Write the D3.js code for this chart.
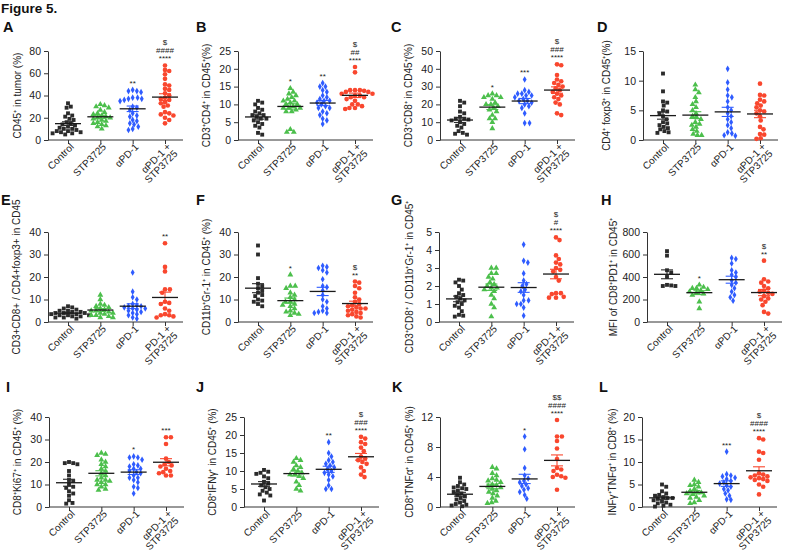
<!DOCTYPE html>
<html>
<head>
<meta charset="utf-8">
<script src="https://cdn.jsdelivr.net/npm/d3@7"></script>
<style>
    body { margin: 0; background: #fff; }
    text { font-family: 'Liberation Sans', Arial, sans-serif; }
</style>
</head>
<body>
<div id="chart-area"></div>
<script>
// DATA
// =================

// group names (last one is two lines)
var groupNames = ['Control', 'STP3725', 'αPD-1', 'αPD-1 +\nSTP3725'];
var groupNamesE = ['Control', 'STP3725', 'αPD-1', 'PD-1 +\nSTP3725'];

// each panel: [control, STP3725, aPD-1, aPD-1 + STP3725]
var panelA = [
    [33, 29, 30, 24, 22, 21, 19, 18, 16, 15, 14, 13, 12, 11, 10, 10, 9, 8, 8, 7, 7, 6, 6, 5],
    [31, 32, 30, 29, 27, 25, 24, 23, 22, 21, 20, 20, 19, 18, 17, 16, 15, 14, 13, 12, 10],
    [45, 44, 44, 43, 38, 38, 37, 37, 36, 35, 30, 29, 27, 24, 22, 21, 18, 17, 14, 10, 9, 12, 15],
    [67, 63, 62, 59, 55, 50, 49, 46, 45, 42, 40, 38, 37, 36, 34, 33, 31, 30, 25, 24, 23, 22, 20, 18, 15]
];
var panelB = [
    [11, 10.5, 10, 9, 8.5, 8, 7.5, 7, 7, 6.5, 6, 6, 5.5, 5, 4.5, 4, 3.5, 2, 1.5],
    [14.5, 13, 12, 11.5, 11, 10.5, 10, 10, 9.5, 9, 9, 8.5, 8, 9, 8, 3, 2.2, 2.2, 12.5, 11, 13.5],
    [16, 15, 15, 14, 13.5, 12.5, 12, 11.5, 11, 10.5, 10, 9.5, 9, 8, 7.5, 7, 6, 5.5, 4.5, 9, 11],
    [20.5, 19, 14, 14, 13.5, 13.5, 13, 13, 12.5, 12.5, 12, 12, 11.5, 11, 10, 9.5, 9, 9, 8.7, 10, 14, 13.8]
];
var panelC = [
    [22, 21, 19, 16, 15, 13, 12, 12, 11.5, 11, 10, 9, 8, 7, 5, 4, 3.5, 3],
    [26, 25, 25, 24, 23, 21, 20, 20, 19, 18, 17, 16, 14, 12, 12, 10, 6.5, 24],
    [34, 28, 27, 26, 26, 25, 24, 23, 22, 22, 21, 20, 19, 18, 15, 9.5, 9.5, 25],
    [42.5, 42, 36.5, 34, 33, 31, 30, 29, 28, 27, 26, 25, 23, 21, 20, 15, 14, 32, 24]
];
var panelD = [
    [11.2, 8.2, 6.5, 6.3, 5.8, 5, 4.8, 4, 3.5, 3, 2.8, 2.5, 2.2, 2, 1.8, 1.5, 1.3, 1.2, 4.5],
    [9.3, 8.5, 8, 7.2, 6.5, 6, 5.5, 5, 4.5, 4, 3.8, 3.5, 3, 2.7, 2.2, 1.8, 1.5, 1, 0.8, 0.8, 2.5],
    [12, 9.7, 8.5, 7.5, 7.2, 6.5, 5.5, 5, 4.5, 4, 3.5, 3, 2.5, 2, 1.3, 1.1, 0.8, 0.7],
    [9.5, 7.6, 7.5, 6.8, 6.5, 6.2, 5.8, 5.5, 4.8, 4.5, 4, 3.3, 2.2, 1.8, 1, 0.9, 0.3, 0.2, 5]
];
var panelE = [
    [7, 6.5, 6, 5.5, 5, 5, 4.5, 4.5, 4, 4, 3.5, 3.5, 3, 3, 2.5, 2.5, 2, 2, 1.5, 4, 3],
    [12, 10, 8, 7.5, 7, 6.5, 6, 5.5, 5, 5, 4.5, 4, 4, 3.5, 3, 3, 2.5, 2, 2],
    [22, 13.5, 11, 10, 8, 7.5, 7, 7, 6.5, 6, 5.5, 5, 4.5, 4, 3.5, 3, 2, 1.5, 6],
    [35, 24.5, 22.5, 14.5, 14.5, 13, 6, 9, 8.5, 8, 5, 3.5, 3, 2.5, 2, 3]
];
var panelF = [
    [34, 30, 19.5, 17, 16, 15, 14, 13, 12, 11.5, 10, 9.5, 9, 8, 7],
    [21, 16, 16, 15, 13, 12, 11, 10, 9, 9, 8, 7.5, 7, 6, 5, 4.5, 4, 3.5, 3],
    [25, 24.5, 24, 23, 22, 19, 16, 15.5, 14, 12, 10, 9, 7, 5, 4.5, 4, 4, 6],
    [18, 17.5, 16, 15, 13, 11, 10, 9, 8, 7.5, 7, 6.5, 6, 5.5, 5, 4.5, 4, 3.5, 3, 2.5, 2, 6]
];
var panelG = [
    [2.35, 2.3, 2.2, 2.0, 1.8, 1.6, 1.5, 1.4, 1.3, 1.2, 1.1, 1.0, 0.9, 0.8, 0.6, 0.4, 0.35, 0.3],
    [3.0, 3.0, 2.7, 2.7, 2.4, 2.2, 2.1, 2.0, 1.9, 1.9, 1.8, 1.7, 1.5, 1.3, 1.0, 0.8, 0.3, 2.5],
    [4.3, 3.4, 3.3, 2.7, 2.3, 2.0, 1.8, 1.7, 1.5, 1.2, 1.2, 1.0, 1.0, 0.8, 0.35, 2.1],
    [4.7, 4.55, 3.7, 3.5, 3.3, 3.2, 2.9, 2.8, 2.5, 2.3, 1.6, 1.6, 1.55, 1.4, 1.35, 1.35, 3.0]
];
var panelH = [
    [630, 590, 460, 440, 400, 330, 325, 320, 320],
    [330, 310, 300, 300, 290, 280, 270, 260, 250, 240, 180, 120],
    [570, 560, 520, 460, 440, 420, 400, 370, 350, 330, 300, 270, 240, 220, 190],
    [545, 380, 360, 350, 320, 300, 280, 270, 260, 250, 230, 210, 200, 180, 150, 90, 75]
];
var panelI = [
    [20, 19.5, 19.5, 19, 16, 14, 12, 11.5, 10, 9, 8.5, 7, 6, 5, 3, 1.5, 1.8],
    [24, 23.5, 23, 21, 20, 19, 18, 17, 16, 15, 14, 13, 12, 11.5, 11, 10, 9, 8, 7.5, 12, 10],
    [22.5, 22, 22, 21, 19, 18.5, 18, 17, 16, 15.5, 15, 14, 13, 12, 11, 9, 8.5, 6, 17, 13],
    [31, 31, 28, 21.5, 20, 19, 18.5, 18, 17, 16, 15.5, 15, 14, 14]
];
var panelJ = [
    [10.3, 9.8, 9.5, 9.2, 8.5, 8, 7, 6.5, 6, 5.5, 5, 4.5, 4, 3.5, 3.2, 1.8],
    [13.5, 13, 12.5, 11, 10.5, 10, 9.5, 9, 9, 8.5, 8, 7, 6, 5, 4.5, 11.5],
    [18, 15, 14, 12.5, 12, 11.5, 11, 10.5, 10, 9.5, 9, 8.5, 7.5, 6, 5, 5, 13],
    [19.5, 19, 18, 17.5, 16.5, 15.5, 14, 13.5, 13, 12.5, 12, 11, 10, 9, 8.3]
];
var panelK = [
    [3.9, 3.3, 3, 2.8, 2.6, 2.4, 2.2, 2, 1.8, 1.6, 1.4, 1.2, 1, 0.8, 0.6, 0.4, 0.3, 0.2, 0.1, 2.5],
    [5.3, 5.1, 4.5, 4.2, 3.8, 3.5, 3.3, 3, 2.8, 2.6, 2.4, 2.2, 2, 1.8, 1.5, 1.2, 0.8, 0.6, 0.5, 3.6, 2.9],
    [9.4, 7.7, 5.2, 4.2, 3.8, 3.5, 3.3, 3.0, 2.8, 2.5, 2.3, 2, 1.6, 1.1],
    [11.6, 9.4, 9.4, 8.8, 7.8, 6.4, 5.2, 5, 4.8, 4.3, 4.1, 4, 3.9, 2.3]
];
var panelL = [
    [5, 4.5, 3.5, 3, 2.7, 2.5, 2.2, 2, 1.8, 1.5, 1.2, 1, 0.8, 0.5, 0.3, 0.1, 2],
    [6, 5.5, 5, 4.8, 4.5, 4, 3.6, 3.3, 3, 2.8, 2.5, 2.2, 2, 1.5, 1, 0.8, 3.2],
    [12.3, 7.3, 7, 6.5, 6.2, 5.8, 5.5, 5.2, 4.8, 4.5, 4, 3.7, 3, 2.5, 1.7, 1.6, 6.8],
    [15.3, 15, 12.3, 12, 10.5, 7.5, 7.2, 7, 6.8, 6.6, 6.4, 6.2, 6, 5.8, 5, 4.5, 2.8]
];

// y tick labels per panel
var ticksA = [0, 20, 40, 60, 80];
var ticksB = [0, 5, 10, 15, 20, 25];
var ticksC = [0, 10, 20, 30, 40, 50];
var ticksD = [0, 5, 10, 15];
var ticksE = [0, 10, 20, 30, 40];
var ticksF = [0, 10, 20, 30, 40];
var ticksG = [0, 1, 2, 3, 4, 5];
var ticksH = [0, 200, 400, 600, 800];
var ticksI = [0, 10, 20, 30, 40];
var ticksJ = [0, 5, 10, 15, 20, 25];
var ticksK = [0, 4, 8, 12];
var ticksL = [0, 5, 10, 15, 20];

// y axis titles
var yTitles = [
    'CD45⁺ in tumor (%)',
    'CD3⁺CD4⁺ in CD45⁺(%)',
    'CD3⁺CD8⁺ in CD45⁺(%)',
    'CD4⁺ foxp3⁺ in CD45⁺(%)',
    'CD3+CD8+ / CD4+foxp3+ in CD45',
    'CD11b⁺Gr-1⁺ in CD45⁺ (%)',
    'CD3⁺CD8⁺ / CD11b⁺Gr-1⁺ in CD45⁺',
    'MFI of CD8⁺PD1⁺ in CD45⁺',
    'CD8⁺Ki67⁺ in CD45⁺ (%)',
    'CD8⁺IFNγ⁺ in CD45⁺ (%)',
    'CD8⁺TNFα⁺ in CD45⁺ (%)',
    'INFγ⁺TNFα⁺ in CD8⁺ (%)'
];

// significance marks above each group (bottom line first)
var marksA = [[], [], ['**'], ['****', '####', '$']];
var marksB = [[], ['*'], ['**'], ['****', '##', '$']];
var marksC = [[], ['*'], ['***'], ['****', '###', '$']];
var marksD = [[], [], [], []];
var marksE = [[], [], [], ['**']];
var marksF = [[], ['*'], [], ['**', '$']];
var marksG = [[], [], [], ['****', '#', '$']];
var marksH = [[], ['*'], [], ['**', '$']];
var marksI = [[], [], ['*'], ['***']];
var marksJ = [[], [], ['**'], ['****', '###', '$']];
var marksK = [[], [], ['*'], ['****', '####', '$$']];
var marksL = [[], [], ['***'], ['****', '####', '$']];

// CANVAS + LAYOUT
// =================

var colors = ['#2b2b2b', '#4cbf4c', '#2f5cff', '#f9472e'];
var symbols = [d3.symbolSquare, d3.symbolTriangle, d3.symbolDiamond, d3.symbolCircle];
var symSize = [15, 15, 13, 17];

var rows = [
    { top: 51, bottom: 140, letterY: 32 },
    { top: 232, bottom: 322, letterY: 205 },
    { top: 417, bottom: 507, letterY: 392 }
];

var panels = [
    { id: 'A', row: 0, ax: 48, lx: 3, tdx: -27, data: panelA, ticks: ticksA, marks: marksA },
    { id: 'B', row: 0, ax: 238, lx: 196, tdx: -28, data: panelB, ticks: ticksB, marks: marksB },
    { id: 'C', row: 0, ax: 440, lx: 391, tdx: -28, data: panelC, ticks: ticksC, marks: marksC },
    { id: 'D', row: 0, ax: 643, lx: 597, tdx: -33, data: panelD, ticks: ticksD, marks: marksD },
    { id: 'E', row: 1, ax: 48, lx: 1, tdx: -28, data: panelE, ticks: ticksE, marks: marksE, names: groupNamesE },
    { id: 'F', row: 1, ax: 238, lx: 196, tdx: -28, data: panelF, ticks: ticksF, marks: marksF },
    { id: 'G', row: 1, ax: 439, lx: 391, tdx: -26, data: panelG, ticks: ticksG, marks: marksG },
    { id: 'H', row: 1, ax: 647, lx: 601, tdx: -30, data: panelH, ticks: ticksH, marks: marksH },
    { id: 'I', row: 2, ax: 49, lx: 6, tdx: -28, data: panelI, ticks: ticksI, marks: marksI },
    { id: 'J', row: 2, ax: 244, lx: 196, tdx: -28, data: panelJ, ticks: ticksJ, marks: marksJ },
    { id: 'K', row: 2, ax: 440, lx: 392, tdx: -27, data: panelK, ticks: ticksK, marks: marksK },
    { id: 'L', row: 2, ax: 642, lx: 599, tdx: -26, data: panelL, ticks: ticksL, marks: marksL }
];

var svg = d3.select('#chart-area')
    .append('svg')
        .attr('width', 788)
        .attr('height', 554)
        .style('background', '#fff');

svg.append('text')
    .attr('x', 1)
    .attr('y', 13)
    .attr('font-size', '13.5px')
    .attr('font-weight', 'bold')
    .attr('fill', '#111')
    .text('Figure 5.');

// simple beeswarm: push points sideways until they don't overlap
function swarm(values, y, r) {
    var pts = values.map(v => ({ v: v, y: y(v), dx: 0 }))
        .sort((a, b) => a.y - b.y);
    var placed = [];
    pts.forEach(p => {
        var offs = [0];
        for (var k = 1; k <= 40; k++) { offs.push(k * 0.7, -k * 0.7); }
        for (var i = 0; i < offs.length; i++) {
            var ok = placed.every(q => {
                var ddx = q.dx - offs[i], ddy = q.y - p.y;
                return ddx * ddx + ddy * ddy >= 4 * r * r;
            });
            if (ok) { p.dx = offs[i]; break; }
        }
        placed.push(p);
    });
    return placed;
}

panels.forEach((p, pi) => {
    var row = rows[p.row];
    var names = p.names || groupNames;
    var g = svg.append('g').attr('class', 'panel-' + p.id);

    var x = d3.scalePoint()
        .domain(d3.range(4))
        .range([p.ax + 20, p.ax + 117]);

    var y = d3.scaleLinear()
        .domain([0, d3.max(p.ticks)])
        .range([row.bottom, row.top]);

    // panel letter
    g.append('text')
        .attr('x', p.lx)
        .attr('y', row.letterY)
        .attr('font-size', '14.5px')
        .attr('font-weight', 'bold')
        .attr('fill', '#111')
        .text(p.id);

    // Y axis
    var yAxis = g.append('g')
        .attr('transform', 'translate(' + p.ax + ',0)')
        .call(d3.axisLeft(y).tickValues(p.ticks).tickFormat(d => d)
            .tickSize(4).tickSizeOuter(0).tickPadding(3));
    yAxis.selectAll('text').attr('font-size', '10.5px').attr('fill', '#222')
        .style('font-family', "'Liberation Sans', Arial, sans-serif");
    yAxis.selectAll('path, line').attr('stroke', '#333');

    // X axis
    g.append('line')
        .attr('x1', p.ax).attr('x2', p.ax + 135)
        .attr('y1', row.bottom).attr('y2', row.bottom)
        .attr('stroke', '#333');
    var xAxis = g.append('g')
        .attr('transform', 'translate(0,' + row.bottom + ')')
        .call(d3.axisBottom(x).tickSize(4).tickFormat(''));
    xAxis.select('.domain').remove();
    xAxis.selectAll('line').attr('stroke', '#333');

    names.forEach((n, i) => {
        var t = g.append('text')
            .attr('transform', 'translate(' + (x(i) + 4) + ',' + (row.bottom + 5) + ') rotate(-45)')
            .attr('text-anchor', 'end')
            .attr('font-size', '10px')
            .attr('fill', '#222');
        n.split('\n').forEach((line, li) => {
            t.append('tspan')
                .attr('x', 0)
                .attr('dy', li === 0 ? '0.35em' : '0.95em')
                .text(line);
        });
    });

    // Y title
    g.append('text')
        .attr('transform', 'translate(' + (p.ax + p.tdx) + ',' + ((row.top + row.bottom) / 2) + ') rotate(-90)')
        .attr('text-anchor', 'middle')
        .attr('font-size', '10px')
        .attr('fill', '#222')
        .text(yTitles[pi]);

    // points, mean, SEM
    p.data.forEach((vals, gi) => {
        var cx = x(gi);
        var pts = swarm(vals, y, 2.1);
        g.selectAll('.pt' + gi)
            .data(pts)
            .enter()
            .append('path')
                .attr('class', 'pt' + gi)
                .attr('transform', d => 'translate(' + (cx + d.dx) + ',' + d.y + ')')
                .attr('d', d3.symbol().type(symbols[gi]).size(symSize[gi]))
                .attr('fill', colors[gi]);

        var mean = d3.mean(vals);
        var sem = d3.deviation(vals) / Math.sqrt(vals.length);

        g.append('line')
            .attr('x1', cx).attr('x2', cx)
            .attr('y1', y(mean - sem)).attr('y2', y(mean + sem))
            .attr('stroke', colors[gi]).attr('stroke-width', 1.1);
        [mean - sem, mean + sem].forEach(v => {
            g.append('line')
                .attr('x1', cx - 6).attr('x2', cx + 6)
                .attr('y1', y(v)).attr('y2', y(v))
                .attr('stroke', colors[gi]).attr('stroke-width', 1.1);
        });
        g.append('line')
            .attr('x1', cx - 13).attr('x2', cx + 13)
            .attr('y1', y(mean)).attr('y2', y(mean))
            .attr('stroke', '#1a1a1a').attr('stroke-width', 1.3);

        // significance marks
        var base = y(d3.max(vals)) - 4;
        p.marks[gi].forEach((m, mi) => {
            g.append('text')
                .attr('x', cx)
                .attr('y', base - mi * 8)
                .attr('text-anchor', 'middle')
                .attr('font-size', '8px')
                .attr('fill', '#222')
                .text(m);
        });
    });
});
</script>
</body>
</html>
